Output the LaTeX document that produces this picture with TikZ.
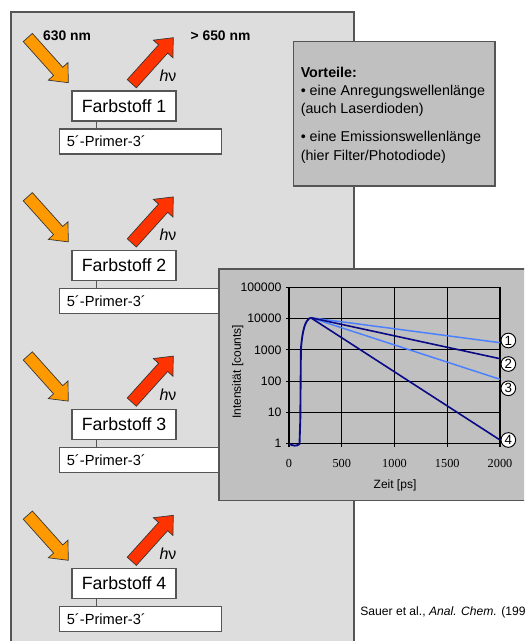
\documentclass[tikz,border=0pt]{standalone}
\usepackage{fontspec}
\setmainfont{Liberation Sans}
\newfontfamily\serifnum{Liberation Serif}
\usetikzlibrary{calc}
\definecolor{panelgray}{HTML}{DDDDDD}
\definecolor{boxgray}{HTML}{C0C0C0}
\definecolor{edgegray}{HTML}{555555}
\definecolor{orangeA}{HTML}{FF9900}
\definecolor{redA}{HTML}{FF3300}
\definecolor{lightblue}{HTML}{4A80FF}
\definecolor{navy}{HTML}{0A0A85}
\newcommand{\blockarrow}[4]{%
  \coordinate (#1-b) at ($(#4)!11.4pt!(#3)$);
  \filldraw[fill=#2, draw=black!80, line width=0.5pt, line join=miter]
    ($(#3)!4.6pt!90:(#4)$) -- ($(#1-b)!4.6pt!90:(#4)$) -- ($(#1-b)!9.9pt!90:(#4)$) -- (#4)
    -- ($(#1-b)!9.9pt!-90:(#4)$) -- ($(#1-b)!4.6pt!-90:(#4)$) -- ($(#3)!4.6pt!-90:(#4)$) -- cycle;
}
\begin{document}
\begin{tikzpicture}[x=0.75pt,y=-0.75pt,
  dyebox/.style={draw=edgegray, fill=white, line width=0.8pt, minimum width=78pt, minimum height=22.5pt, inner sep=0pt, font=\fontsize{13.3}{16}\selectfont},
  primerbox/.style={draw=edgegray, fill=white, line width=0.8pt, minimum height=18.75pt, inner ysep=0pt, inner xsep=5.6pt, text width=110.5pt, align=left, font=\fontsize{11}{13}\selectfont},
  hnu/.style={font=\fontsize{12}{14}\selectfont},
  wl/.style={font=\bfseries\fontsize{10.4}{12}\selectfont},
  vtext/.style={anchor=west, inner sep=0pt, font=\fontsize{10.7}{13}\selectfont},
  tick/.style={font=\fontsize{9.2}{11}\selectfont, inner sep=0pt},
  gridline/.style={black, line width=0.9pt},
  numcircle/.style={circle, draw=black, fill=white, line width=0.7pt, minimum size=11pt, inner sep=0pt, font=\fontsize{10}{12}\selectfont},
  curvelight/.style={lightblue, line width=1.1pt},
  curvedark/.style={navy, line width=1.2pt}]
\useasboundingbox (0,0) rectangle (524,641);
\clip (0,0) rectangle (524,641);
% main panel
\fill[white] (0,0) rectangle (524,641);
\filldraw[fill=panelgray, draw=edgegray, line width=1pt] (11,12) rectangle (354,650);
% wavelength labels
\node[wl] (w630) at (67,36) {630 nm};
\node[wl] (w650) at (220.5,36) {> 650 nm};
% four dye units
\foreach \k in {0,1,2,3} {
  \pgfmathsetmacro{\dy}{159.2*\k}
  \node[dyebox] (f\k) at (124,106+\dy) {Farbstoff \pgfmathparse{int(\k+1)}\pgfmathresult};
  \node[primerbox] (p\k) at (140.5,141.5+\dy) {5´-Primer-3´};
  \coordinate (c\k) at ($(f\k.south west)+(25,0)$);
  \draw[edgegray, line width=0.8pt] (c\k) -- (c\k |- p\k.north);
  \coordinate (ot\k) at (27.8,37.5+\dy);
  \coordinate (oh\k) at (68.3,82.7+\dy);
  \coordinate (rt\k) at (131.8,83.7+\dy);
  \coordinate (rh\k) at (173.3,37.7+\dy);
  \blockarrow{oa\k}{orangeA}{ot\k}{oh\k}
  \blockarrow{ra\k}{redA}{rt\k}{rh\k}
  \node[hnu] (hv\k) at (168,76+\dy) {\textit{h}ν};
}
% advantages box
\filldraw[fill=boxgray, draw=edgegray, line width=1pt] (293.3,41.7) rectangle (495,186);
\node[vtext, font=\bfseries\fontsize{10.7}{13}\selectfont] (v0) at (300.5,72.7) {Vorteile:};
\node[vtext] (v1) at (300.5,91.7) {• eine Anregungswellenlänge};
\node[vtext] (v2) at (300.5,110) {(auch Laserdioden)};
\node[vtext] (v3) at (300.5,138) {• eine Emissionswellenlänge};
\node[vtext] (v4) at (300.5,156.7) {(hier Filter/Photodiode)};
% citation
\node[anchor=west, inner sep=0pt, font=\fontsize{9.1}{11}\selectfont] (cite) at (360,612.3) {Sauer et al., \textit{Anal. Chem.} (199};
% chart box
\filldraw[fill=boxgray, draw=edgegray, line width=1pt] (219,269) rectangle (532,500.7);
% grid
\foreach \y in {287.2,318.5,349.8,381.1,412.4,443.7} {
  \draw[gridline] (286,\y) -- (500,\y);
}
\foreach \x in {289,341.75,394.5,447.25,500} {
  \draw[gridline] (\x,287.2) -- (\x,446.7);
}
% tick labels
\foreach \y/\t in {287.2/100000,318.5/10000,349.8/1000,381.1/100,412.4/10,443.7/1} {
  \node[tick, anchor=east] at (281.7,\y) {\t};
}
\foreach \x/\t in {289/0,341.75/500,394.5/1000,447.25/1500,500/2000} {
  \node[tick, font=\serifnum\fontsize{9.2}{11}\selectfont] at (\x,463.3) {\t};
}
\node[font=\fontsize{9}{11}\selectfont] (xlab) at (395,485.3) {Zeit [ps]};
\node[font=\fontsize{9}{11}\selectfont, rotate=90] (ylab) at (237.7,371.7) {Intensität [counts]};
% curves
\coordinate (peak) at (310.7,317.7);
\coordinate (e1) at (500,342.7);
\coordinate (e2) at (500,358.7);
\coordinate (e3) at (500,379.3);
\coordinate (e4) at (500,440);
\draw[curvelight] (peak) -- (e1);
\draw[curvelight] (peak) -- (e3);
\draw[curvedark] (peak) -- (e2);
\draw[curvedark] (peak) -- (e4);
\draw[curvedark, line width=1.4pt] (289,443.5) .. controls (292,446) and (297,446.5) .. (299.5,444) -- (300.3,420) -- (300.9,349) .. controls (302.5,330) and (305,320) .. (peak);
% number labels
\node[numcircle] (n1) at (508.3,340.5) {1};
\node[numcircle] (n2) at (508.3,364) {2};
\node[numcircle] (n3) at (508.3,388.3) {3};
\node[numcircle] (n4) at (508.3,440) {4};
\end{tikzpicture}
\end{document}
